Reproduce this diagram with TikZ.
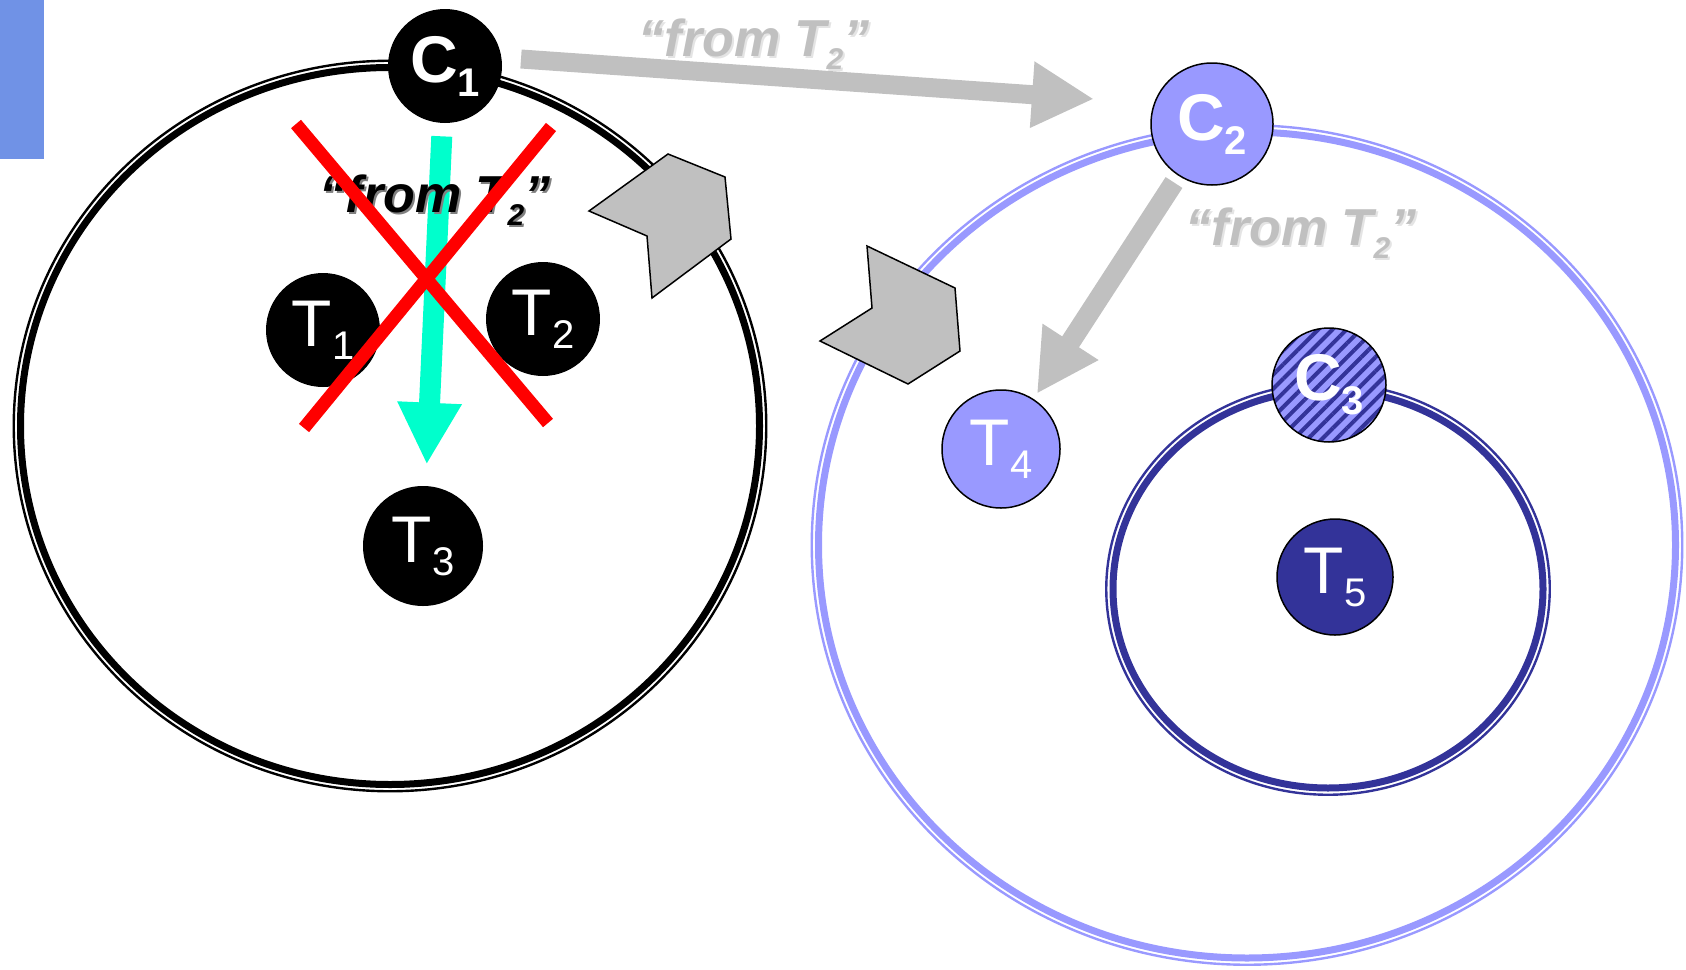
\documentclass[tikz,border=0pt]{standalone}
\usepackage{fontspec}
\setmainfont{Liberation Sans}
\usetikzlibrary{arrows.meta,patterns.meta}
\definecolor{lavender}{HTML}{9999FF}
\definecolor{navy}{HTML}{333399}
\definecolor{msggray}{HTML}{C0C0C0}
\definecolor{lightgray}{HTML}{E4E4E4}
\definecolor{aqua}{HTML}{00FFCC}
\definecolor{barblue}{HTML}{7092E6}
\tikzset{
  every node/.style={inner sep=0pt},
  comp/.style={circle, minimum size=57pt, text=white,
    font=\fontsize{33}{33}\selectfont\bfseries},
  thread/.style={circle, minimum size=57pt, text=white,
    font=\fontsize{33}{33}\selectfont},
  fromlbl/.style={anchor=base, font=\fontsize{26}{26}\selectfont\bfseries\itshape},
  bigarrow/.style={draw=msggray, line width=10pt, -{Triangle[width=31pt,length=31pt]}},
  piece/.style={fill=msggray, draw=black, line width=0.75pt},
}
\newcommand{\sub}[2][-6.5pt]{\raisebox{#1}{\fontsize{20}{20}\selectfont #2}}
\newcommand{\fromsub}{\raisebox{-6.5pt}{\fontsize{15}{15}\selectfont 2}}
\newcommand{\ring}[4]{% centre, rx, ry, colour
  \draw[#4, line width=3.5pt] #1 ellipse [x radius=#2, y radius=#3];
  \draw[#4, line width=1.2pt] #1 ellipse [x radius=#2+6.75, y radius=#3+6.75];
}

\begin{document}
\begin{tikzpicture}[x=0.5pt, y=-0.5pt]
  \useasboundingbox (0,0) rectangle (1686,969);
  \fill[barblue] (0,0) rectangle (44,159);

  % rings
  \ring{(390,426)}{369.5}{358.5}{black}
  \ring{(1247,545)}{428.5}{413}{lavender}
  \ring{(1328,589)}{215}{199}{navy}

  % left side
  \node[comp, fill=black] (c1) at (445,66) {C\sub[-7pt]{1}};
  \node[thread, fill=black] (t1) at (323,330) {T\sub{1}};
  \node[thread, fill=black] (t2) at (543,319) {T\sub{2}};
  \node[thread, fill=black, minimum size=60pt] (t3) at (423,546) {T\sub{3}};

  \draw[aqua, line width=10.5pt, -{Triangle[width=30pt,length=31pt]},
        shorten <=6.5pt, shorten >=10.5pt] (c1) -- (t3);

  \node[fromlbl, text=gray] at (437,214) {“from T\fromsub”};
  \node[fromlbl, text=black] (lbl1) at (435,212) {“from T\fromsub”};

  \draw[red, line width=6.5pt] (296,124) -- (548,423);
  \draw[red, line width=6.5pt] (551,127) -- (304,428);

  % right side
  \node[comp, fill=lavender, draw=black, line width=0.75pt,
        minimum size=61pt] (c2) at (1212,124) {C\sub[-7pt]{2}};
  \node[thread, fill=lavender, draw=black, line width=0.75pt,
        minimum size=59pt] (t4) at (1001,449) {T\sub{4}};
  \node[comp, preaction={fill=lavender}, draw=black, line width=0.75pt,
        pattern={Lines[angle=45, distance=5pt, line width=2pt]},
        pattern color=navy] (c3) at (1329,385) {C\sub[-7pt]{3}};
  \node[thread, fill=navy, draw=black, line width=0.75pt,
        minimum size=58pt] (t5) at (1335,577) {T\sub{5}};

  % messages
  \coordinate (msgs) at (521,59);
  \coordinate (msge) at (1094,99);
  \draw[bigarrow, line width=9.5pt] (msgs) -- (msge);
  \draw[bigarrow, shorten <=4pt, shorten >=3pt] (c2) -- (t4);

  \node[fromlbl, text=lightgray] at (756,58) {“from T\fromsub”};
  \node[fromlbl, text=msggray] (lbl2) at (754,56) {“from T\fromsub”};
  \node[fromlbl, text=lightgray] at (1303,247) {“from T\fromsub”};
  \node[fromlbl, text=msggray] (lbl3) at (1301,245) {“from T\fromsub”};

  % boundary pieces
  \draw[piece] (668,154) -- (725,177) -- (731,239) -- (652,298)
    -- (647,236) -- (589,211) -- cycle;
  \draw[piece] (867,246) -- (955,288) -- (960,351) -- (908,384)
    -- (820,341) -- (872,308) -- cycle;
\end{tikzpicture}
\end{document}
